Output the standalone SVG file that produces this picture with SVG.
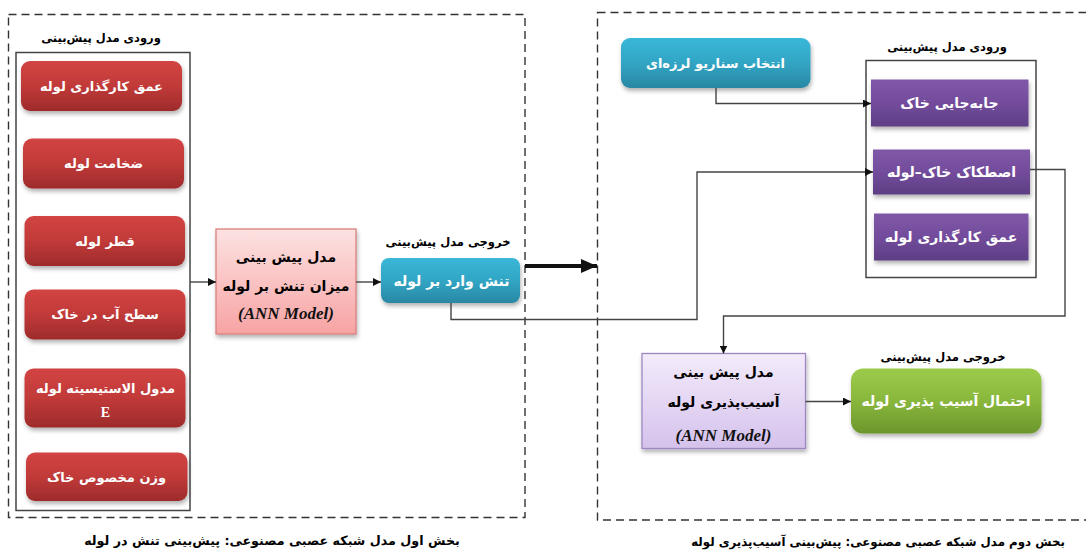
<svg xmlns="http://www.w3.org/2000/svg" width="1086" height="552" viewBox="0 0 1086 552">
<defs>
  <linearGradient id="gRed" x1="0" y1="0" x2="0" y2="1">
    <stop offset="0" stop-color="#d24443"/><stop offset="0.5" stop-color="#c13a39"/><stop offset="1" stop-color="#9e2b2b"/>
  </linearGradient>
  <linearGradient id="gBlue" x1="0" y1="0" x2="0" y2="1">
    <stop offset="0" stop-color="#3ab7d8"/><stop offset="0.5" stop-color="#31a5c4"/><stop offset="1" stop-color="#2a88a3"/>
  </linearGradient>
  <linearGradient id="gPurple" x1="0" y1="0" x2="0" y2="1">
    <stop offset="0" stop-color="#7f58a8"/><stop offset="0.5" stop-color="#734c9c"/><stop offset="1" stop-color="#5e3e84"/>
  </linearGradient>
  <linearGradient id="gGreen" x1="0" y1="0" x2="0" y2="1">
    <stop offset="0" stop-color="#9ccb4b"/><stop offset="0.5" stop-color="#89b73c"/><stop offset="1" stop-color="#6b962c"/>
  </linearGradient>
  <linearGradient id="gPink" x1="0" y1="0" x2="0" y2="1">
    <stop offset="0" stop-color="#fde2e2"/><stop offset="1" stop-color="#f7a3a3"/>
  </linearGradient>
  <linearGradient id="gLav" x1="0" y1="0" x2="0" y2="1">
    <stop offset="0" stop-color="#f3ebfb"/><stop offset="1" stop-color="#d5c2ec"/>
  </linearGradient>
  <filter id="sh" x="-10%" y="-10%" width="130%" height="140%">
    <feDropShadow dx="1" dy="3" stdDeviation="2" flood-color="#000" flood-opacity="0.3"/>
  </filter>
  <marker id="arr" viewBox="0 0 10 10" refX="10" refY="5" markerWidth="8" markerHeight="8" markerUnits="userSpaceOnUse" orient="auto">
    <path d="M0,0 L10,5 L0,10 z" fill="#111"/>
  </marker>
  <marker id="arrBig" viewBox="0 0 10 10" refX="10" refY="5" markerWidth="16" markerHeight="14" markerUnits="userSpaceOnUse" orient="auto" preserveAspectRatio="none">
    <path d="M0,0 L10,5 L0,10 z" fill="#111"/>
  </marker>
</defs>
<style>
  .fa { font-family: "DejaVu Sans", "Noto Sans", sans-serif; font-weight: bold; }
  .w { fill: #ffffff; font-size: 13px; }
  .pw { fill: #ffffff; font-size: 14px; }
  .k { fill: #000000; }
  .lbl { font-size: 11.5px; }
  .cap { font-size: 12.7px; }
  .cap2 { font-size: 11.8px; }
  .big { font-size: 14px; }
  .ann { font-family: "Liberation Serif", "DejaVu Serif", serif; font-style: italic; font-weight: bold; font-size: 17px; fill: #111; }
  .dash { fill: none; stroke: #333; stroke-width: 1.4; stroke-dasharray: 8 5; }
  .frame { fill: #fff; stroke: #444; stroke-width: 1.5; }
  .con { fill: none; stroke: #444; stroke-width: 1.4; }
</style>

<rect fill="#ffffff" x="0" y="0" width="1086" height="552"/>

<!-- section frames -->
<g id="section1">
  <rect class="dash" x="8.5" y="14.5" width="516.5" height="503"/>
  <text class="fa k cap" x="272" y="545" text-anchor="middle" direction="rtl">بخش اول مدل شبکه عصبی مصنوعی: پیش‌بینی تنش در لوله</text>
</g>
<g id="section2">
  <rect class="dash" x="597.5" y="12.5" width="520" height="507.5"/>
  <text class="fa k cap2" x="878" y="546" text-anchor="middle" direction="rtl">بخش دوم مدل شبکه عصبی مصنوعی: پیش‌بینی آسیب‌پذیری لوله</text>
</g>

<!-- input group 1 -->
<g id="inputs1">
  <text class="fa k lbl" x="101" y="42" text-anchor="middle" direction="rtl">ورودی مدل پیش‌بینی</text>
  <rect class="frame" x="16" y="52.5" width="174" height="458"/>
</g>
<g id="in1-depth">
  <rect x="21" y="61" width="161" height="50" rx="9" fill="url(#gRed)" filter="url(#sh)"/>
  <text class="fa w" x="101.5" y="91" text-anchor="middle" direction="rtl">عمق کارگذاری لوله</text>
</g>
<g id="in1-thickness">
  <rect x="23" y="138.5" width="161" height="50" rx="9" fill="url(#gRed)" filter="url(#sh)"/>
  <text class="fa w" x="103.5" y="168" text-anchor="middle" direction="rtl">ضخامت لوله</text>
</g>
<g id="in1-diameter">
  <rect x="24.5" y="216" width="160.5" height="50" rx="9" fill="url(#gRed)" filter="url(#sh)"/>
  <text class="fa w" x="105" y="245.5" text-anchor="middle" direction="rtl">قطر لوله</text>
</g>
<g id="in1-water">
  <rect x="24.5" y="289.5" width="161" height="50" rx="9" fill="url(#gRed)" filter="url(#sh)"/>
  <text class="fa w" x="105" y="319" text-anchor="middle" direction="rtl">سطح آب در خاک</text>
</g>
<g id="in1-modulus">
  <rect x="24.5" y="368.5" width="161" height="59" rx="9" fill="url(#gRed)" filter="url(#sh)"/>
  <text class="fa w" x="105.5" y="392.5" text-anchor="middle" direction="rtl">مدول الاستیسیته لوله</text>
  <text x="105.5" y="417" text-anchor="middle" font-family="Liberation Serif, serif" font-weight="bold" font-size="14" fill="#fff">E</text>
</g>
<g id="in1-weight">
  <rect x="26" y="452.5" width="161.5" height="48.5" rx="9" fill="url(#gRed)" filter="url(#sh)"/>
  <text class="fa w" x="106.5" y="482" text-anchor="middle" direction="rtl">وزن مخصوص خاک</text>
</g>

<!-- model 1 -->
<g id="model1">
  <rect x="216" y="229" width="140" height="105" fill="url(#gPink)" stroke="#d9807f" stroke-width="1.3" filter="url(#sh)"/>
  <text class="fa k big" x="286" y="262" text-anchor="middle" direction="rtl">مدل پیش بینی</text>
  <text class="fa k big" x="286" y="291" text-anchor="middle" direction="rtl">میزان تنش بر لوله</text>
  <text class="ann" x="286" y="319" text-anchor="middle">(ANN Model)</text>
</g>

<!-- output 1 -->
<g id="output1">
  <text class="fa k lbl" x="448" y="246" text-anchor="middle" direction="rtl">خروجی مدل پیش‌بینی</text>
  <rect x="381" y="258" width="139" height="45" rx="8" fill="url(#gBlue)" filter="url(#sh)"/>
  <text class="fa pw" x="451.5" y="286" text-anchor="middle" direction="rtl">تنش وارد بر لوله</text>
</g>

<!-- scenario -->
<g id="scenario">
  <rect x="621" y="38" width="189.5" height="50" rx="9" fill="url(#gBlue)" filter="url(#sh)"/>
  <text class="fa w" x="715.5" y="68" text-anchor="middle" direction="rtl">انتخاب سناریو لرزه‌ای</text>
</g>

<!-- input group 2 -->
<g id="inputs2">
  <text class="fa k lbl" x="947" y="51" text-anchor="middle" direction="rtl">ورودی مدل پیش‌بینی</text>
  <rect class="frame" x="866" y="60.5" width="170" height="217"/>
</g>
<g id="in2-displacement">
  <rect x="871" y="79.5" width="157.5" height="47" fill="url(#gPurple)" filter="url(#sh)"/>
  <text class="fa pw" x="949.5" y="108" text-anchor="middle" direction="rtl">جابه‌جایی خاک</text>
</g>
<g id="in2-friction">
  <rect x="873" y="149.5" width="157" height="45" fill="url(#gPurple)" filter="url(#sh)"/>
  <text class="fa pw" x="951.5" y="177" text-anchor="middle" direction="rtl">اصطکاک خاک–لوله</text>
</g>
<g id="in2-depth">
  <rect x="874" y="213.5" width="154.5" height="47" fill="url(#gPurple)" filter="url(#sh)"/>
  <text class="fa pw" x="951" y="242" text-anchor="middle" direction="rtl">عمق کارگذاری لوله</text>
</g>

<!-- model 2 -->
<g id="model2">
  <rect x="642" y="353.5" width="163.5" height="95" fill="url(#gLav)" stroke="#9d86c2" stroke-width="1.3" filter="url(#sh)"/>
  <text class="fa k big" x="723.5" y="377" text-anchor="middle" direction="rtl">مدل پیش بینی</text>
  <text class="fa k big" x="723.5" y="407" text-anchor="middle" direction="rtl">آسیب‌پذیری لوله</text>
  <text class="ann" x="723.5" y="441" text-anchor="middle">(ANN Model)</text>
</g>

<!-- output 2 -->
<g id="output2">
  <text class="fa k lbl" x="943" y="361" text-anchor="middle" direction="rtl">خروجی مدل پیش‌بینی</text>
  <rect x="851" y="368.5" width="190.5" height="65" rx="12" fill="url(#gGreen)" filter="url(#sh)"/>
  <text class="fa w big" x="946" y="406" text-anchor="middle" direction="rtl">احتمال آسیب پذیری لوله</text>
</g>

<!-- connectors -->
<g id="connectors">
  <line class="con" x1="190" y1="282" x2="216" y2="282" marker-end="url(#arr)"/>
  <line class="con" x1="356" y1="282" x2="381" y2="282" marker-end="url(#arr)"/>
  <line x1="525" y1="266" x2="597" y2="266" stroke="#111" stroke-width="4" marker-end="url(#arrBig)"/>
  <polyline class="con" points="451,303 451,319.5 697,319.5 697,172 873,172" marker-end="url(#arr)"/>
  <polyline class="con" points="716,88 716,103.5 871,103.5" marker-end="url(#arr)"/>
  <polyline class="con" points="1030,169.5 1065,169.5 1065,316 723.5,316 723.5,353.5" marker-end="url(#arr)"/>
  <line class="con" x1="805.5" y1="401.5" x2="851" y2="401.5" marker-end="url(#arr)"/>
</g>
</svg>
